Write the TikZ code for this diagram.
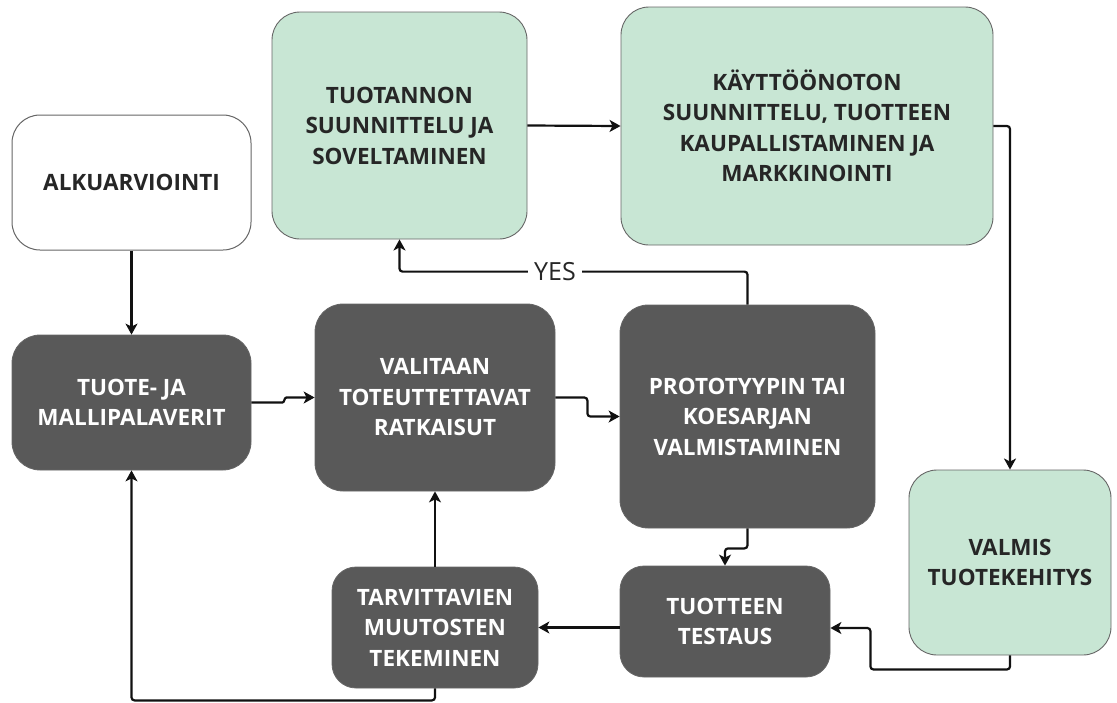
\documentclass[tikz,border=0pt]{standalone}
\usepackage{fontspec}
\setmainfont{Open Sans}
\usetikzlibrary{arrows.meta,calc}
\definecolor{boxdark}{HTML}{595959}
\definecolor{boxgreen}{HTML}{C8E6D4}
\definecolor{edgegray}{HTML}{666666}
\definecolor{linkcol}{HTML}{111111}
\begin{document}
\begin{tikzpicture}[x=1pt,y=-1pt,
  basebox/.style={rectangle, rounded corners=28pt, align=center,
    font=\fontsize{22.5}{30.5}\selectfont\bfseries, inner sep=0pt},
  whitebox/.style={basebox, draw=edgegray, line width=1pt, fill=white, text=black!85},
  greenbox/.style={basebox, draw=edgegray, line width=0.9pt, fill=boxgreen, text=black!85},
  darkbox/.style={basebox, draw=black!60, line width=0.8pt, fill=boxdark, text=white},
  link/.style={draw=linkcol, line width=2.2pt, rounded corners=3pt,
    -{Stealth[length=11pt,width=12pt,inset=3pt]}},
  yeslabel/.style={fill=white, inner xsep=6pt, inner ysep=2pt,
    font=\fontsize{25}{28}\selectfont, text=black!85}]
\useasboundingbox (0,0) rectangle (1117,702);

% process boxes
\node[whitebox, minimum width=239pt, minimum height=135pt] (alku) at (131.5,182.5) {ALKUARVIOINTI};
\node[greenbox, minimum width=255pt, minimum height=227pt] (tuotannon) at (399.5,125.5) {TUOTANNON\\SUUNNITTELU JA\\SOVELTAMINEN};
\node[greenbox, minimum width=372pt, minimum height=238pt] (kaytto) at (807,126) {KÄYTTÖÖNOTON\\SUUNNITTELU, TUOTTEEN\\KAUPALLISTAMINEN JA\\MARKKINOINTI};
\node[darkbox, minimum width=239pt, minimum height=135pt] (tuote) at (131.5,402.5) {TUOTE- JA\\MALLIPALAVERIT};
\node[darkbox, minimum width=240pt, minimum height=187pt] (valitaan) at (435,397.5) {VALITAAN\\TOTEUTTETTAVAT\\RATKAISUT};
\node[darkbox, minimum width=255pt, minimum height=223pt] (proto) at (747.5,416.5) {PROTOTYYPIN TAI\\KOESARJAN\\VALMISTAMINEN};
\node[greenbox, minimum width=202pt, minimum height=185pt] (valmis) at (1010,562.5) {VALMIS\\TUOTEKEHITYS};
\node[darkbox, minimum width=210pt, minimum height=111pt, rounded corners=24pt] (testaus) at (725,621.5) {TUOTTEEN\\TESTAUS};
\node[darkbox, minimum width=206pt, minimum height=121pt, rounded corners=24pt] (tarv) at (435,627.5) {TARVITTAVIEN\\MUUTOSTEN\\TEKEMINEN};

% connectors
\draw[link] (alku.south) -- (tuote.north);
\draw[link, rounded corners=1pt] (tuote.east) -- ++(32,0) -- ++(2,-5) -- (valitaan.west);
\draw[link] (valitaan.east) -- ++(32,0) |- (proto.west);
\draw[link] (tuotannon.east) -- (kaytto.west);
\draw[link] (kaytto.east) -| (valmis.north);
\draw[link] (proto.south) -- ++(0,20) -| (testaus.north);
\draw[link] (valmis.south) -- ++(0,14) -| ($(testaus.east)+(40,6.5)$) -- ($(testaus.east)+(0,6.5)$);
\draw[link] (tarv.east -| testaus.west) -- (tarv.east);
\draw[link] (tarv.north) -- (valitaan.south);
\draw[link] (tarv.south) -- ++(0,12) -| (tuote.south);
\draw[link] (proto.north) -- ++(0,-33) -| (tuotannon.south);
\node[yeslabel] (yes) at (555,272) {YES};
\end{tikzpicture}
\end{document}
